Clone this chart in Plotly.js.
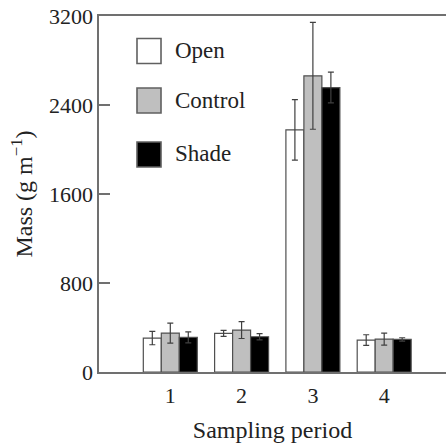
<!DOCTYPE html>
<html>
<head>
<meta charset="utf-8">
<script src="https://cdn.plot.ly/plotly-3.0.1.min.js"></script>
<style>
html,body{margin:0;padding:0;background:#fff;}
#chart{width:446px;height:443px;}
</style>
</head>
<body>
<div id="chart"></div>
<script>
// Data
const periods = [1, 2, 3, 4];
const periodLabels = ['1', '2', '3', '4'];
const seriesNames = ['Open', 'Control', 'Shade'];
const openMass = [305, 347, 2177, 287];
const openErr = [60, 27, 272, 48];
const controlMass = [350, 377, 2662, 296];
const controlErr = [90, 76, 480, 54];
const shadeMass = [311, 317, 2557, 293];
const shadeErr = [50, 28, 138, 15];
const yTicks = [0, 800, 1600, 2400, 3200];

const fills = ['#ffffff', '#bfbfbf', '#000000'];
const values = [openMass, controlMass, shadeMass];
const errs = [openErr, controlErr, shadeErr];

const FONT = '"Liberation Serif", "DejaVu Serif", serif';

const traces = seriesNames.map((name, i) => ({
  type: 'bar',
  name: name,
  x: periods,
  y: values[i],
  marker: {color: fills[i], line: {color: '#505050', width: 1.2}},
  error_y: {type: 'data', array: errs[i], visible: true, color: '#404040', thickness: 1.2, width: 3},
  showlegend: false,
  hoverinfo: 'skip'
}));

// Manual legend (large boxes) in paper coordinates
const legendBoxes = [[0.9368, 0.8666], [0.7978, 0.7275], [0.6461, 0.5758]];
const legendTextY = [0.9017, 0.7626, 0.6124];
const shapes = legendBoxes.map((b, i) => ({
  type: 'rect', xref: 'paper', yref: 'paper',
  x0: 0.1095, x1: 0.1787, y0: b[1], y1: b[0],
  fillcolor: fills[i], line: {color: '#606060', width: 1.6}
}));
const annotations = seriesNames.map((name, i) => ({
  xref: 'paper', yref: 'paper', x: 0.2133, y: legendTextY[i],
  xanchor: 'left', yanchor: 'middle', showarrow: false,
  text: name, font: {family: FONT, size: 23, color: '#222'}
}));

const layout = {
  width: 446, height: 443,
  margin: {l: 99, r: 0, t: 16, b: 71, pad: 0},
  paper_bgcolor: '#fff', plot_bgcolor: '#fff',
  barmode: 'group', bargap: 0.243, bargroupgap: 0,
  font: {family: FONT, color: '#222'},
  xaxis: {
    range: [0, 4.867], tickvals: periods, ticktext: periodLabels,
    showline: true, linecolor: '#707070', linewidth: 1.6, mirror: true,
    ticks: '', showgrid: false, zeroline: false,
    ticklabelstandoff: 3,
    tickfont: {family: FONT, size: 22, color: '#222'},
    title: {text: 'Sampling period', font: {family: FONT, size: 24, color: '#222'}, standoff: 15}
  },
  yaxis: {
    range: [0, 3200], tickvals: yTicks,
    showline: true, linecolor: '#707070', linewidth: 1.6,
    ticks: 'inside', ticklen: 11, tickcolor: '#707070', tickwidth: 1.4,
    showgrid: false, zeroline: false,
    tickfont: {family: FONT, size: 22, color: '#222'},
    title: {text: 'Mass (g m<sup>−1</sup>)', font: {family: FONT, size: 24, color: '#222'}, standoff: 9}
  },
  shapes: shapes,
  annotations: annotations
};

Plotly.newPlot('chart', traces, layout, {displayModeBar: false, staticPlot: true});
</script>
</body>
</html>
